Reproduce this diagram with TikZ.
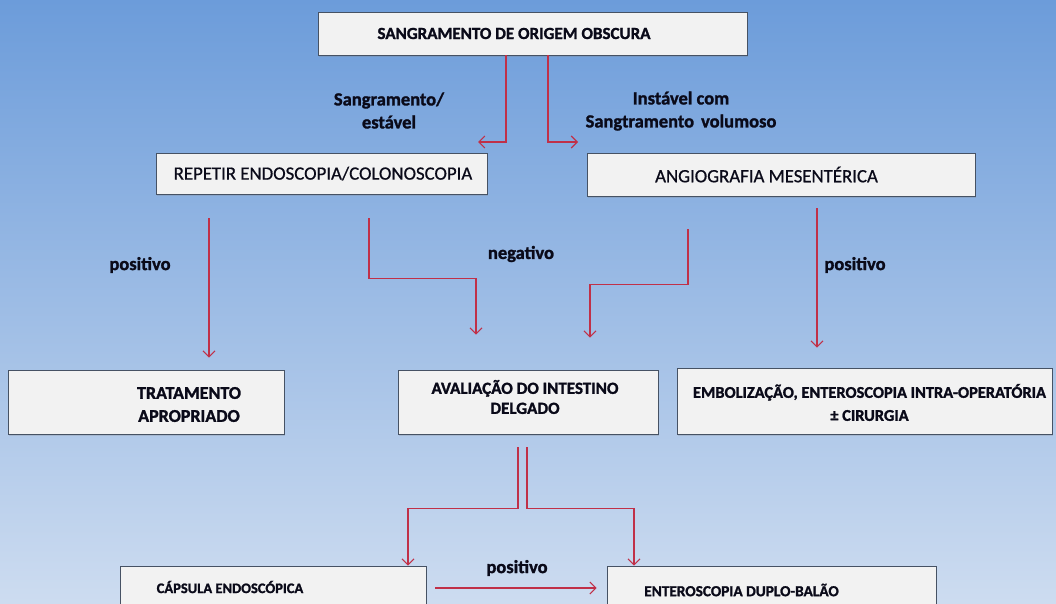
\documentclass[tikz,border=0pt]{standalone}
\usepackage{fontspec}
\setmainfont{Carlito}[BoldFeatures={FakeBold=1.4}]
\newfontfamily\mdfont{Carlito}[FakeBold=0.7]
\usetikzlibrary{arrows.meta,shadows}
\definecolor{arrowred}{RGB}{192,48,72}
\definecolor{boxfill}{RGB}{242,242,242}
\definecolor{boxline}{RGB}{70,82,100}
\definecolor{bgtop}{RGB}{108,156,218}
\definecolor{bgbot}{RGB}{205,220,240}
\definecolor{ink}{RGB}{10,10,25}
\tikzset{
  box/.style={draw=boxline, line width=0.8pt, fill=boxfill, rectangle, inner sep=0pt,
    drop shadow={opacity=0.25, shadow xshift=0.5pt, shadow yshift=-1.5pt}},
  arr/.style={draw=arrowred, line width=1.1pt, -{Straight Barb[length=6pt,width=12pt]}},
  bt/.style={text=ink, inner sep=0pt, align=center},
  lbl/.style={text=ink, inner sep=0pt, align=center, font=\bfseries\fontsize{18.5}{23}\selectfont}
}
\begin{document}
\begin{tikzpicture}[x=1pt,y=-1pt]
\useasboundingbox (0,0) rectangle (1056,603);
\shade[top color=bgtop, bottom color=bgbot] (0,0) rectangle (1056,603);

% boxes
\node[box, minimum width=429pt, minimum height=43pt,
  label={[bt, xshift=-18.5pt, font=\bfseries\fontsize{17}{20}\selectfont]center:{SANGRAMENTO DE ORIGEM OBSCURA}}]
  (top) at (532.5,33.5) {};
\node[box, minimum width=331pt, minimum height=41pt,
  label={[bt, xshift=1.5pt, font=\mdfont\fontsize{18.8}{22}\selectfont]center:{REPETIR ENDOSCOPIA/COLONOSCOPIA}}]
  (rep) at (321.5,173.5) {};
\node[box, minimum width=388pt, minimum height=43pt,
  label={[bt, xshift=-14.5pt, font=\mdfont\fontsize{18.8}{22}\selectfont]center:{ANGIOGRAFIA MESENTÉRICA}}]
  (ang) at (781,174.5) {};
\node[box, minimum width=276pt, minimum height=64pt,
  label={[bt, xshift=43pt, yshift=-2.5pt, font=\bfseries\fontsize{18}{23}\selectfont]center:{TRATAMENTO\\APROPRIADO}}]
  (trat) at (146,402) {};
\node[box, minimum width=260pt, minimum height=64pt,
  label={[bt, xshift=-3pt, yshift=5pt, font=\bfseries\fontsize{17}{20}\selectfont]center:{AVALIAÇÃO DO INTESTINO\\DELGADO}}]
  (aval) at (528,402) {};
\node[box, minimum width=375pt, minimum height=66pt,
  label={[bt, xshift=5pt, yshift=-1.5pt, font=\bfseries\fontsize{16.4}{23}\selectfont]center:{EMBOLIZAÇÃO, ENTEROSCOPIA INTRA-OPERATÓRIA\\± CIRURGIA}}]
  (emb) at (864.5,401) {};
\node[box, minimum width=306pt, minimum height=44pt,
  label={[bt, xshift=-43pt, yshift=1pt, font=\bfseries\fontsize{14.5}{17}\selectfont]center:{CÁPSULA ENDOSCÓPICA}}]
  (caps) at (273,588) {};
\node[box, minimum width=329pt, minimum height=44pt,
  label={[bt, xshift=-30pt, yshift=-2pt, font=\bfseries\fontsize{15.3}{17}\selectfont]center:{ENTEROSCOPIA DUPLO-BALÃO}}]
  (ent) at (771.5,588) {};

% edge labels
\node[lbl] (l1) at (389,110.5) {Sangramento/\\estável};
\node[lbl] (l2) at (681,111) {Instável com\\Sangtramento\hspace{7pt}volumoso};
\node[lbl] (l3) at (140,265) {positivo};
\node[lbl] (l4) at (521,254) {negativo};
\node[lbl] (l5) at (855,265) {positivo};
\node[lbl] (l6) at (517,568) {positivo};

% free ends
\coordinate (a1) at (478,142);
\coordinate (a2) at (578,142);

% connectors
\draw[arr] ([xshift=-26.5pt]top.south) |- (a1);
\draw[arr] ([xshift=15.5pt]top.south) |- (a2);
\draw[arr] ([xshift=-112.5pt,yshift=-24pt]rep.south) -- ([xshift=63pt,yshift=12pt]trat.north);
\draw[arr] ([xshift=47.5pt,yshift=-24pt]rep.south) -- ++(0,60) -| ([xshift=-52pt,yshift=35pt]aval.north);
\draw[arr] ([xshift=-93pt,yshift=-33pt]ang.south) -- ++(0,55) -| ([xshift=62pt,yshift=32pt]aval.north);
\draw[arr] ([xshift=36pt,yshift=-12pt]ang.south) -- ([xshift=-47.5pt,yshift=20pt]emb.north);
\draw[arr] ([xshift=-10pt,yshift=-13pt]aval.south) -- ++(0,61) -| ([xshift=135pt]caps.north);
\draw[arr] ([xshift=-1pt,yshift=-13pt]aval.south) -- ++(0,61) -| ([xshift=-137.5pt]ent.north);
\draw[arr] ([xshift=9pt]caps.east) -- ([xshift=-10pt]ent.west);
\end{tikzpicture}
\end{document}
